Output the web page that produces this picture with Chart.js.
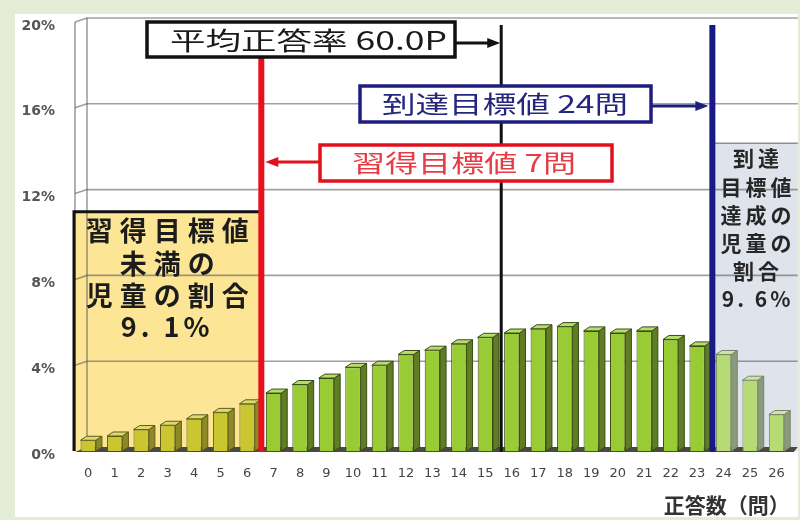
<!DOCTYPE html>
<html lang="ja">
<head>
<meta charset="utf-8">
<title>正答数の分布</title>
<script src="https://cdn.jsdelivr.net/npm/chart.js@4.4.1/dist/chart.umd.min.js"></script>
<style>
  html, body { margin: 0; padding: 0; background: #e4ebd6; }
  #wrap { width: 800px; height: 520px; }
</style>
</head>
<body>
<div id="wrap"><canvas id="chart" width="800" height="520"></canvas></div>
<script>
// 正答数ごとの児童の割合（%）
const questionLabels = ['0','1','2','3','4','5','6','7','8','9','10','11','12','13',
  '14','15','16','17','18','19','20','21','22','23','24','25','26'];
const shareValues = [0.5, 0.7, 1.0, 1.2, 1.5, 1.8, 2.2, 2.7, 3.1, 3.4, 3.9, 4.0, 4.5, 4.7,
  5.0, 5.3, 5.5, 5.7, 5.8, 5.6, 5.5, 5.6, 5.2, 4.9, 4.5, 3.3, 1.7];
const yMax = 20;
const yStep = 4;

// 目標値・平均
const maxScore = 26;
const averageRate = 60.0;
const acquireTarget = 7;
const reachTarget = 24;
const belowAcquireShare = 9.1;
const reachShare = 9.6;

const jp = '"Noto Sans CJK JP", sans-serif';

function barColors(i) {
  if (i < acquireTarget) return { front: '#c9c632', side: '#8d8a26', top: '#dedb6c', line: '#5c5a1c' };
  if (i < reachTarget) return { front: '#98cb34', side: '#5f7d22', top: '#b6dc6a', line: '#3a4c16' };
  return { front: '#b7db74', side: '#8c9a7c', top: '#cfe6a2', line: '#77856a' };
}

function spaced(ctx, text, cx, cy, gap) {
  const chars = [...text];
  const widths = chars.map(c => ctx.measureText(c).width);
  const total = widths.reduce((a, b) => a + b, 0) + gap * (chars.length - 1);
  let x = cx - total / 2;
  ctx.textAlign = 'left';
  ctx.textBaseline = 'middle';
  chars.forEach((c, i) => { ctx.fillText(c, x, cy); x += widths[i] + gap; });
}

function fitted(ctx, text, x0, x1, cy) {
  const w = ctx.measureText(text).width;
  ctx.save();
  ctx.translate((x0 + x1) / 2, cy);
  ctx.scale((x1 - x0) / w, 1);
  ctx.textAlign = 'center';
  ctx.textBaseline = 'middle';
  ctx.fillText(text, 0, 0);
  ctx.restore();
}

function arrow(ctx, x0, x1, y, color) {
  const dir = Math.sign(x1 - x0);
  ctx.save();
  ctx.strokeStyle = color; ctx.fillStyle = color; ctx.lineWidth = 3;
  ctx.beginPath(); ctx.moveTo(x0, y); ctx.lineTo(x1 - dir * 10, y); ctx.stroke();
  ctx.beginPath();
  ctx.moveTo(x1, y); ctx.lineTo(x1 - dir * 13, y - 5); ctx.lineTo(x1 - dir * 13, y + 5);
  ctx.closePath(); ctx.fill();
  ctx.restore();
}

function box(ctx, x0, y0, x1, y1, color, lw) {
  ctx.save();
  ctx.fillStyle = '#ffffff';
  ctx.fillRect(x0, y0, x1 - x0, y1 - y0);
  ctx.strokeStyle = color; ctx.lineWidth = lw;
  ctx.strokeRect(x0, y0, x1 - x0, y1 - y0);
  ctx.restore();
}

const wallDx = 12, wallDy = 4, barDx = 6, barDy = 4;

const scenePlugin = {
  id: 'scene',
  beforeDraw(chart) {
    const ctx = chart.ctx;
    ctx.save();
    ctx.fillStyle = '#e4ebd6';
    ctx.fillRect(0, 0, chart.width, chart.height);
    ctx.fillStyle = '#ffffff';
    ctx.fillRect(15, 14, 783, 503);
    ctx.restore();
  },
  beforeDatasetsDraw(chart) {
    const { ctx, chartArea: a, scales: { x, y } } = chart;
    const acquireX = x.getPixelForValue(acquireTarget - 0.5) + 1;
    const reachX = x.getPixelForValue(reachTarget - 0.5) + 2;
    ctx.save();
    // 領域の塗り
    ctx.fillStyle = '#fde596';
    ctx.fillRect(a.left - 2, y.getPixelForValue(11.15), acquireX - a.left + 2, a.bottom - y.getPixelForValue(11.15));
    ctx.fillStyle = '#dfe4ec';
    ctx.fillRect(reachX, y.getPixelForValue(14.35), a.right + 8 - reachX, a.bottom - y.getPixelForValue(14.35));
    // 奥の壁と目盛線
    ctx.strokeStyle = 'rgba(80,80,80,0.55)';
    ctx.lineWidth = 1.6;
    for (let v = yStep; v <= yMax; v += yStep) {
      const py = y.getPixelForValue(v);
      ctx.beginPath();
      ctx.moveTo(a.left, py);
      ctx.lineTo(a.left + wallDx, py - wallDy);
      ctx.lineTo(a.right + 8, py - wallDy);
      ctx.stroke();
    }
    ctx.beginPath();
    ctx.moveTo(a.left, y.getPixelForValue(yMax)); ctx.lineTo(a.left, a.bottom);
    ctx.moveTo(a.left + wallDx, y.getPixelForValue(yMax) - wallDy); ctx.lineTo(a.left + wallDx, a.bottom - wallDy);
    ctx.stroke();
    // 床
    ctx.fillStyle = '#4a4a40';
    ctx.beginPath();
    ctx.moveTo(a.left, a.bottom + 1);
    ctx.lineTo(a.left + wallDx, a.bottom - wallDy);
    ctx.lineTo(a.right + 8, a.bottom - wallDy);
    ctx.lineTo(a.right + 4, a.bottom + 1);
    ctx.closePath();
    ctx.fill();
    ctx.restore();
  },
  afterDatasetsDraw(chart) {
    const { ctx, chartArea: a, scales: { x, y } } = chart;
    const meta = chart.getDatasetMeta(0);
    ctx.save();
    // 立体の側面・上面
    meta.data.forEach((bar, i) => {
      const p = bar.getProps(['x', 'y', 'base', 'width'], true);
      const c = barColors(i);
      const xl = p.x - p.width / 2, xr = p.x + p.width / 2;
      ctx.lineWidth = 1;
      ctx.strokeStyle = c.line;
      ctx.fillStyle = c.side;
      ctx.beginPath();
      ctx.moveTo(xr, p.y); ctx.lineTo(xr + barDx, p.y - barDy);
      ctx.lineTo(xr + barDx, p.base - barDy); ctx.lineTo(xr, p.base);
      ctx.closePath(); ctx.fill(); ctx.stroke();
      ctx.fillStyle = c.top;
      ctx.beginPath();
      ctx.moveTo(xl, p.y); ctx.lineTo(xl + barDx, p.y - barDy);
      ctx.lineTo(xr + barDx, p.y - barDy); ctx.lineTo(xr, p.y);
      ctx.closePath(); ctx.fill(); ctx.stroke();
    });

    const acquireX = x.getPixelForValue(acquireTarget - 0.5) + 1;
    const reachX = x.getPixelForValue(reachTarget - 0.5) + 2;
    const averageX = x.getPixelForValue(averageRate / 100 * maxScore);
    const lineTop = y.getPixelForValue(yMax) + 3;

    // 習得目標値未満の枠
    const yellowTop = y.getPixelForValue(11.15);
    ctx.strokeStyle = '#111';
    ctx.lineWidth = 3;
    ctx.beginPath();
    ctx.moveTo(a.left - 1, a.bottom); ctx.lineTo(a.left - 1, yellowTop); ctx.lineTo(acquireX, yellowTop);
    ctx.stroke();
    const blueTop = y.getPixelForValue(14.35);
    ctx.strokeStyle = '#8a8f98';
    ctx.lineWidth = 1.5;
    ctx.beginPath(); ctx.moveTo(reachX, blueTop); ctx.lineTo(a.right + 8, blueTop); ctx.stroke();

    ctx.fillStyle = '#1c1c1c';
    ctx.font = 'bold 27px ' + jp;
    const yc = (acquireX + a.left) / 2 - 1;
    spaced(ctx, '習得目標値', yc, 231, 7);
    spaced(ctx, '未満の', yc, 264, 7);
    spaced(ctx, '児童の割合', yc, 296, 7);
    spaced(ctx, belowAcquireShare.toFixed(1).replace('.', '. ') + '%', yc - 2, 327, 4);

    ctx.font = 'bold 21px ' + jp;
    ctx.fillStyle = '#262626';
    const rc = (reachX + a.right + 8) / 2 + 1;
    spaced(ctx, '到達', rc, 158, 4);
    spaced(ctx, '目標値', rc, 187, 4);
    spaced(ctx, '達成の', rc, 215, 4);
    spaced(ctx, '児童の', rc, 243, 4);
    spaced(ctx, '割合', rc, 271, 4);
    spaced(ctx, reachShare.toFixed(1).replace('.', '. ') + '%', rc, 299, 3);

    // 縦線
    ctx.lineCap = 'butt';
    ctx.strokeStyle = '#e8101c'; ctx.lineWidth = 6;
    ctx.beginPath(); ctx.moveTo(acquireX, lineTop); ctx.lineTo(acquireX, a.bottom + 1); ctx.stroke();
    ctx.strokeStyle = '#111111'; ctx.lineWidth = 3;
    ctx.beginPath(); ctx.moveTo(averageX, lineTop); ctx.lineTo(averageX, a.bottom + 1); ctx.stroke();
    ctx.strokeStyle = '#1a1a86'; ctx.lineWidth = 6;
    ctx.beginPath(); ctx.moveTo(reachX, lineTop); ctx.lineTo(reachX, a.bottom + 1); ctx.stroke();

    // 吹き出し
    box(ctx, 147, 22, 455, 57, '#111111', 3.5);
    ctx.fillStyle = '#1a1a1a';
    ctx.font = '400 25px ' + jp;
    fitted(ctx, '平均正答率 ' + averageRate.toFixed(1) + 'P', 170, 447, 40);
    arrow(ctx, 455, averageX - 1, 43, '#111111');

    box(ctx, 360, 86, 651, 122, '#1e1e80', 3.5);
    ctx.fillStyle = '#26267e';
    ctx.font = '400 24px ' + jp;
    fitted(ctx, '到達目標値 ' + reachTarget + '問', 382, 628, 104);
    arrow(ctx, 651, reachX - 4, 106, '#1e1e80');

    box(ctx, 320, 145, 612, 181, '#e0101c', 3.5);
    ctx.fillStyle = '#e63c46';
    ctx.font = '400 24px ' + jp;
    fitted(ctx, '習得目標値 ' + acquireTarget + '問', 352, 576, 163);
    arrow(ctx, 320, acquireX + 4, 162, '#e0101c');
    ctx.restore();
  }
};

new Chart(document.getElementById('chart'), {
  type: 'bar',
  data: {
    labels: questionLabels,
    datasets: [{
      label: '児童の割合',
      data: shareValues,
      backgroundColor: ctx => barColors(ctx.dataIndex).front,
      borderColor: ctx => barColors(ctx.dataIndex).line,
      borderWidth: 1,
      barPercentage: 0.58,
      categoryPercentage: 1
    }]
  },
  options: {
    responsive: false,
    animation: false,
    layout: { padding: { left: 15, right: 10, top: 22, bottom: 2 } },
    plugins: {
      legend: { display: false },
      tooltip: { enabled: false }
    },
    scales: {
      x: {
        grid: { display: false, drawTicks: false },
        border: { display: false },
        ticks: { color: '#444', font: { family: 'DejaVu Sans', size: 13 }, padding: 15, maxRotation: 0, autoSkip: false },
        title: { display: true, text: '正答数（問）', align: 'end', color: '#333',
                 font: { family: 'Noto Sans CJK JP', size: 21, weight: 'bold' }, padding: { top: 0, bottom: 0 } },
        afterFit: s => { s.height = 67; }
      },
      y: {
        min: 0, max: yMax,
        grid: { display: false, drawTicks: false },
        border: { display: false },
        ticks: { stepSize: yStep, color: '#555', padding: 20, labelOffset: 4,
                 font: { family: 'DejaVu Sans', size: 14, weight: 'bold' },
                 callback: v => v + '%' },
        afterFit: s => { s.width = 60; s.paddingTop = 0; s.paddingBottom = 0; }
      }
    }
  },
  plugins: [scenePlugin]
});
</script>
</body>
</html>
